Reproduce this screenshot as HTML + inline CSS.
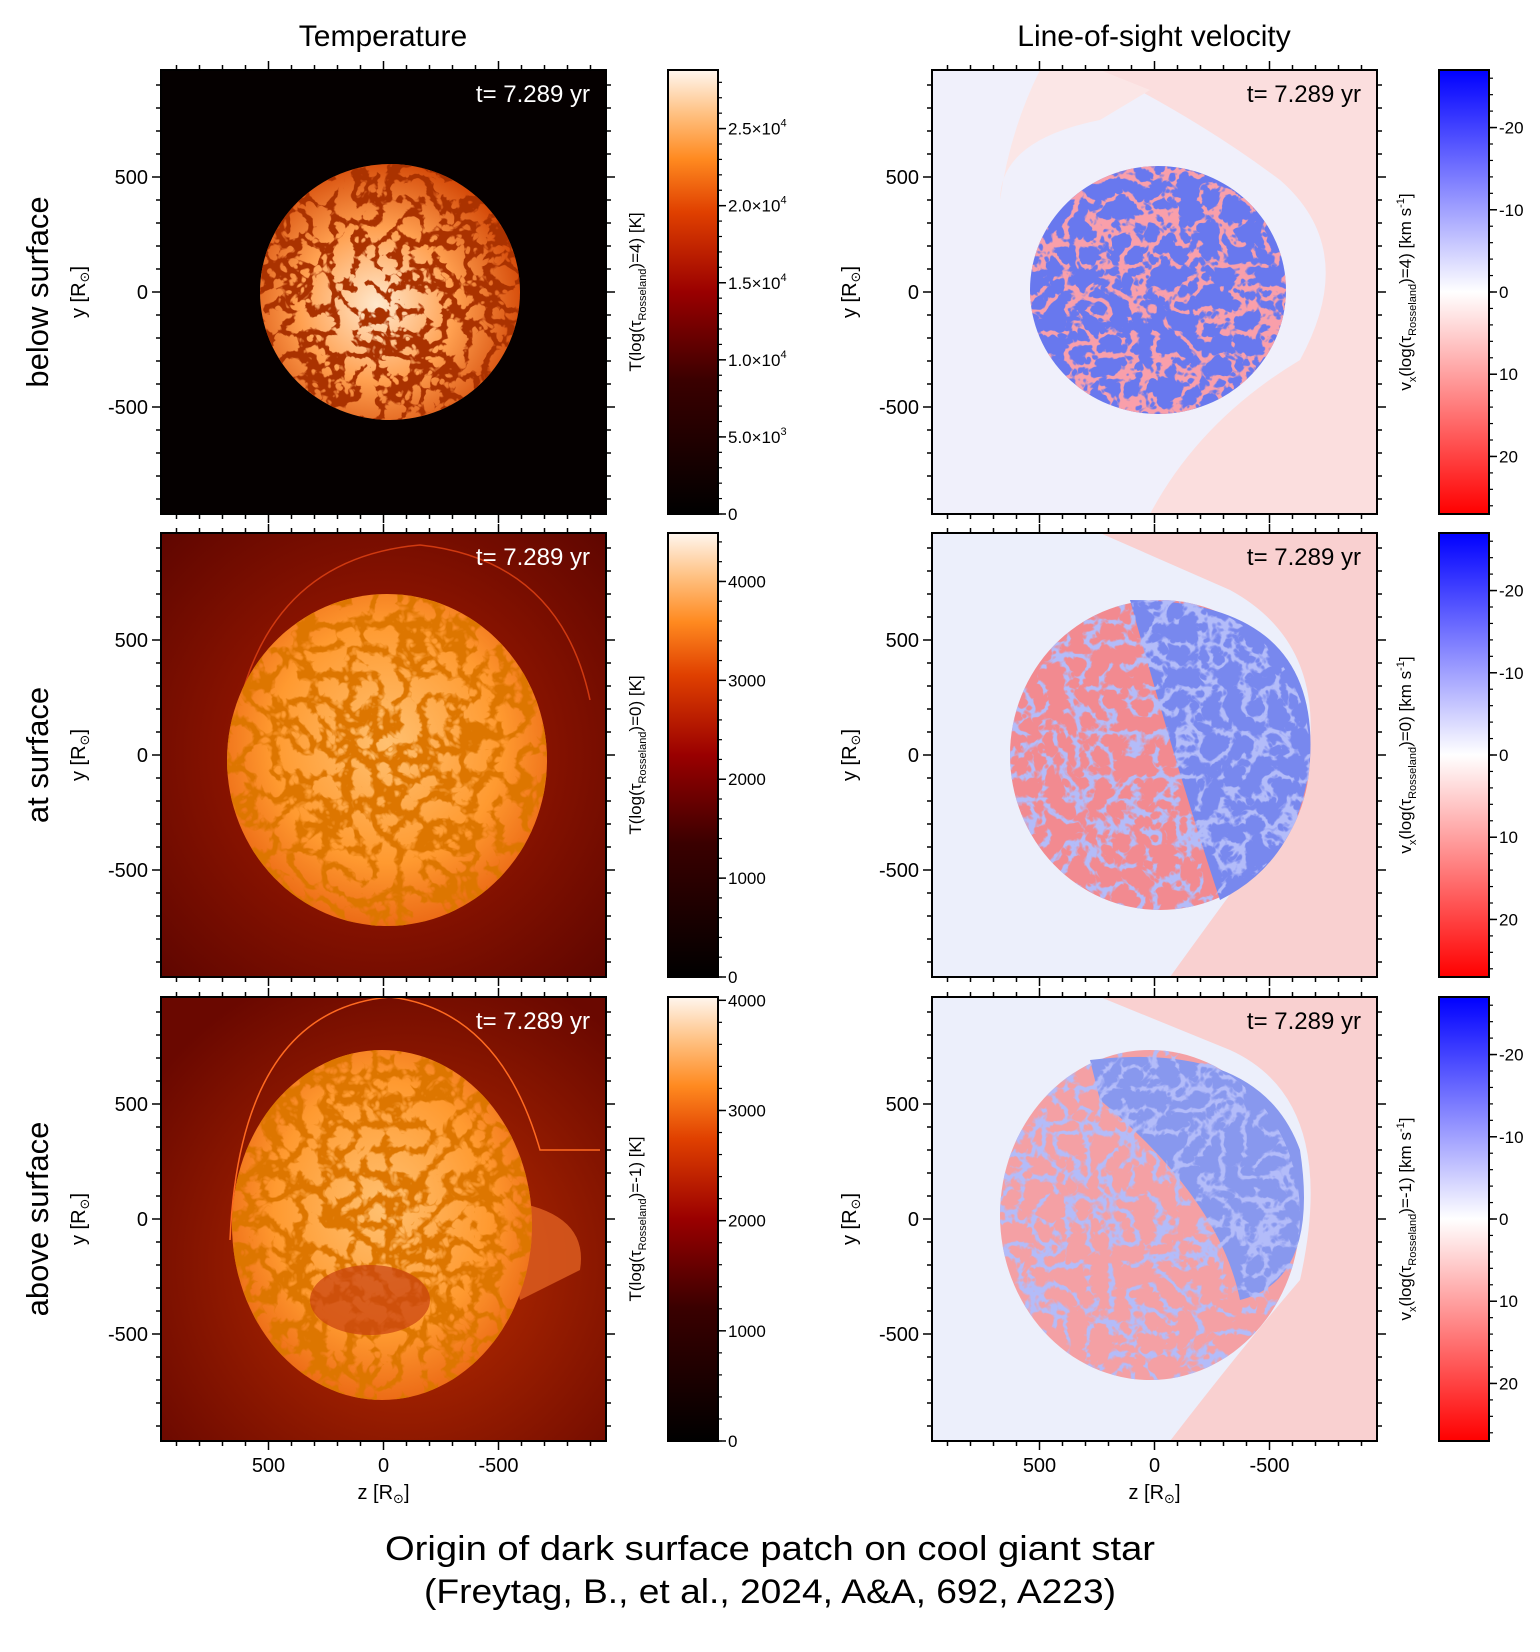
<!DOCTYPE html>
<html><head><meta charset="utf-8">
<style>
html,body{margin:0;padding:0;background:#fff;}
svg{display:block;font-family:"Liberation Sans",sans-serif;}
</style></head>
<body>
<svg id="fig" width="1540" height="1652" viewBox="0 0 1540 1652" xmlns="http://www.w3.org/2000/svg">
<defs>
  <linearGradient id="hotGrad" x1="0" y1="1" x2="0" y2="0">
    <stop offset="0" stop-color="#000"/><stop offset="0.3" stop-color="#3a0000"/>
    <stop offset="0.5" stop-color="#9a0000"/><stop offset="0.68" stop-color="#e04000"/>
    <stop offset="0.8" stop-color="#ff8a20"/><stop offset="0.9" stop-color="#ffc080"/>
    <stop offset="1" stop-color="#fff6ee"/>
  </linearGradient>
  <linearGradient id="bwrGrad" x1="0" y1="1" x2="0" y2="0">
    <stop offset="0" stop-color="#ff0000"/><stop offset="0.5" stop-color="#ffffff"/>
    <stop offset="1" stop-color="#0000ff"/>
  </linearGradient>
  <radialGradient id="star1" cx="0.45" cy="0.55" r="0.6">
    <stop offset="0" stop-color="#ffe8cc"/><stop offset="0.5" stop-color="#ffa050"/><stop offset="1" stop-color="#d04000"/>
  </radialGradient>
  <radialGradient id="star2" cx="0.5" cy="0.45" r="0.6">
    <stop offset="0" stop-color="#ffc070"/><stop offset="0.6" stop-color="#ff9a30"/><stop offset="1" stop-color="#e86010"/>
  </radialGradient>
  <radialGradient id="bg2" cx="0.5" cy="0.5" r="0.7">
    <stop offset="0" stop-color="#b02000"/><stop offset="1" stop-color="#600600"/>
  </radialGradient>
  <radialGradient id="bg3" cx="0.55" cy="0.6" r="0.7">
    <stop offset="0" stop-color="#c03000"/><stop offset="1" stop-color="#6a0800"/>
  </radialGradient>
  <filter id="lanes" x="0" y="0" width="100%" height="100%">
    <feTurbulence type="turbulence" baseFrequency="0.045" numOctaves="3" seed="4"/>
    <feColorMatrix type="matrix" values="0 0 0 0 0.4  0 0 0 0 0.03  0 0 0 0 0  0 0 0 -12 3.4"/>
    <feComposite in2="SourceGraphic" operator="in"/>
  </filter>
  <filter id="lanes2" x="0" y="0" width="100%" height="100%">
    <feTurbulence type="turbulence" baseFrequency="0.04" numOctaves="3" seed="9"/>
    <feColorMatrix type="matrix" values="0 0 0 0 0.72  0 0 0 0 0.18  0 0 0 0 0  0 0 0 -7 2.3"/>
    <feComposite in2="SourceGraphic" operator="in"/>
  </filter>
  <filter id="redp" x="0" y="0" width="100%" height="100%">
    <feTurbulence type="turbulence" baseFrequency="0.045" numOctaves="3" seed="2"/>
    <feColorMatrix type="matrix" values="0 0 0 0 0.95  0 0 0 0 0.35  0 0 0 0 0.4  0 0 0 -12 3.0"/>
    <feComposite in2="SourceGraphic" operator="in"/>
  </filter>
  <filter id="bluep" x="0" y="0" width="100%" height="100%">
    <feTurbulence type="turbulence" baseFrequency="0.045" numOctaves="3" seed="7"/>
    <feColorMatrix type="matrix" values="0 0 0 0 0.45  0 0 0 0 0.5  0 0 0 0 0.95  0 0 0 -8 2.2"/>
    <feComposite in2="SourceGraphic" operator="in"/>
  </filter>
  <clipPath id="cL1"><rect x="161" y="70" width="445" height="444"/></clipPath>
  <clipPath id="cL2"><rect x="161" y="533" width="445" height="444"/></clipPath>
  <clipPath id="cL3"><rect x="161" y="997" width="445" height="444"/></clipPath>
  <clipPath id="cR1"><rect x="932" y="70" width="445" height="444"/></clipPath>
  <clipPath id="cR2"><rect x="932" y="533" width="445" height="444"/></clipPath>
  <clipPath id="cR3"><rect x="932" y="997" width="445" height="444"/></clipPath>
</defs>

<g clip-path="url(#cL1)">
  <rect x="161" y="70" width="445" height="444" fill="#050000"/>
  <ellipse cx="390" cy="292" rx="130" ry="128" fill="url(#star1)"/>
  <ellipse cx="390" cy="292" rx="130" ry="128" fill="#000" filter="url(#lanes)"/>
</g>
<g clip-path="url(#cL2)">
  <rect x="161" y="533" width="445" height="444" fill="url(#bg2)"/>
  <path d="M230 760 Q250 560 420 545 Q560 560 590 700" stroke="#d03a10" stroke-width="1.5" fill="none"/>
  <ellipse cx="387" cy="760" rx="160" ry="166" fill="url(#star2)"/>
  <ellipse cx="387" cy="760" rx="160" ry="166" fill="#000" filter="url(#lanes2)"/>
</g>
<g clip-path="url(#cL3)">
  <rect x="161" y="997" width="445" height="444" fill="url(#bg3)"/>
  <path d="M230 1240 Q240 1010 390 997 M390 997 Q500 1010 540 1150 L600 1150" stroke="#ff6a20" stroke-width="1.5" fill="none"/>
  <path d="M500 1200 Q590 1210 580 1270 L520 1300 Z" fill="#e06020" opacity="0.8"/>
  <ellipse cx="382" cy="1225" rx="150" ry="175" fill="url(#star2)"/>
  <ellipse cx="382" cy="1225" rx="150" ry="175" fill="#000" filter="url(#lanes2)"/>
  <ellipse cx="370" cy="1300" rx="60" ry="35" fill="#c84010" opacity="0.7"/>
</g>

<g clip-path="url(#cR1)">
  <rect x="932" y="70" width="445" height="444" fill="#f0f0fb"/>
  <path d="M1100 70 L1377 70 L1377 514 L1150 514 Q1200 420 1300 360 Q1360 250 1280 180 Q1200 120 1100 70 Z" fill="#fbdede"/>
  <path d="M1000 200 Q1000 140 1100 120 L1150 90 L1100 70 L1040 70 Q1010 130 1000 200 Z" fill="#fbe6e6"/>
  <ellipse cx="1158" cy="290" rx="128" ry="124" fill="#6878ee"/>
  <ellipse cx="1158" cy="290" rx="128" ry="124" fill="#000" filter="url(#redp)"/>
</g>
<g clip-path="url(#cR2)">
  <rect x="932" y="533" width="445" height="444" fill="#eceffb"/>
  <path d="M1100 533 L1377 533 L1377 977 L1170 977 Q1240 880 1300 800 Q1340 650 1230 590 Z" fill="#f9d0d0"/>
  <ellipse cx="1160" cy="755" rx="150" ry="155" fill="#f28a90"/>
  <path d="M1130 600 Q1320 600 1310 760 Q1300 860 1220 900 Q1180 780 1130 600 Z" fill="#7888ee"/>
  <ellipse cx="1160" cy="755" rx="150" ry="155" fill="#000" filter="url(#bluep)"/>
</g>
<g clip-path="url(#cR3)">
  <rect x="932" y="997" width="445" height="444" fill="#eceffb"/>
  <path d="M1100 997 L1377 997 L1377 1441 L1170 1441 Q1240 1350 1300 1280 Q1340 1100 1230 1050 Z" fill="#f9d0d0"/>
  <ellipse cx="1150" cy="1215" rx="150" ry="165" fill="#f4a0a4"/>
  <path d="M1090 1060 Q1260 1040 1300 1150 Q1320 1280 1240 1300 Q1220 1200 1100 1100 Z" fill="#8898ee"/>
  <ellipse cx="1150" cy="1215" rx="150" ry="165" fill="#000" filter="url(#bluep)"/>
</g>

<g id="axes"></g>

<text x="383" y="46" font-size="30" text-anchor="middle">Temperature</text>
<text x="1154" y="46" font-size="30" text-anchor="middle">Line-of-sight velocity</text>

<text transform="translate(48,292) rotate(-90)" font-size="31" text-anchor="middle">below surface</text>
<text transform="translate(48,755) rotate(-90)" font-size="31" text-anchor="middle">at surface</text>
<text transform="translate(48,1219) rotate(-90)" font-size="31" text-anchor="middle">above surface</text>

<text x="770" y="1560" font-size="34" text-anchor="middle" textLength="770" lengthAdjust="spacingAndGlyphs">Origin of dark surface patch on cool giant star</text>
<text x="770" y="1603" font-size="34" text-anchor="middle" textLength="692" lengthAdjust="spacingAndGlyphs">(Freytag, B., et al., 2024, A&amp;A, 692, A223)</text>

<script>
const axisTicks = [500, 0, -500];
const tempTickLabelsRow1 = ["2.5", "2.0", "1.5", "1.0", "5.0"];
const tempTickValuesRow1 = [25000, 20000, 15000, 10000, 5000, 0];
const tempMaxRow1 = 28800;
const tempTickValuesRow2 = [4000, 3000, 2000, 1000, 0];
const tempMaxRow2 = 4490;
const tempTickValuesRow3 = [4000, 3000, 2000, 1000, 0];
const tempMaxRow3 = 4030;
const velTickValues = [-20, -10, 0, 10, 20];
const velMax = 27;
const tauLevels = ["4", "0", "-1"];
const timeLabel = "t= 7.289 yr";

const NS = "http://www.w3.org/2000/svg";
const axes = document.getElementById("axes");
const rowTops = [70, 533, 997];
const colLefts = [161, 932];
const W = 445, H = 444, SCALE = 0.23;
function mk(tag, attrs, parent) {
  const e = document.createElementNS(NS, tag);
  for (const k in attrs) e.setAttribute(k, attrs[k]);
  (parent || axes).appendChild(e);
  return e;
}
function addParts(textEl, parts) {
  parts.forEach(p => {
    const ts = mk("tspan", {}, textEl);
    if (p[1]) ts.setAttribute("dy", p[1]);
    if (p[2]) ts.setAttribute("font-size", p[2]);
    if (p[3]) ts.setAttribute("font-family", p[3]);
    ts.textContent = p[0];
  });
}
function xPix(v, col) { return colLefts[col] + W / 2 - v * SCALE; }
function yPix(v, row) { return rowTops[row] + H / 2 - v * SCALE; }
const SUN = "DejaVu Sans, sans-serif";

for (let c = 0; c < 2; c++) {
  for (let r = 0; r < 3; r++) {
    const L = colLefts[c], T = rowTops[r];
    const g = mk("g", {});
    
    
    mk("rect", {x: L, y: T, width: W, height: H, fill: "none", stroke: "#000", "stroke-width": 2}, g);
    for (let v = -900; v <= 900; v += 100) {
      const major = v % 500 === 0;
      const len = major ? 9 : 5;
      const x = xPix(v, c), y = yPix(v, r);
      mk("line", {x1: x, y1: T, x2: x, y2: T - len, stroke: "#000", "stroke-width": 1.5}, g);
      mk("line", {x1: x, y1: T + H, x2: x, y2: T + H + len, stroke: "#000", "stroke-width": 1.5}, g);
      mk("line", {x1: L, y1: y, x2: L - len, y2: y, stroke: "#000", "stroke-width": 1.5}, g);
      mk("line", {x1: L + W, y1: y, x2: L + W + len, y2: y, stroke: "#000", "stroke-width": 1.5}, g);
    }
    axisTicks.forEach(v => {
      const t = mk("text", {x: L - 13, y: yPix(v, r) + 7, "font-size": 20, "text-anchor": "end"}, g);
      t.textContent = String(v);
      
      
    });
    const yl = mk("text", {transform: `translate(${L - 76},${T + H / 2}) rotate(-90)`, "font-size": 20, "text-anchor": "middle"}, g);
    addParts(yl, [["y [R", 0], ["\u2299", 4, 13, SUN], ["]", -4, 20]]);
    
    
    const tt = mk("text", {x: L + W - 16, y: T + 32, "font-size": 24, "text-anchor": "end", fill: c === 0 ? "#fff" : "#000"}, g);
    tt.textContent = timeLabel;
    
    
    if (r === 2) {
      axisTicks.forEach(v => {
        const t = mk("text", {x: xPix(v, c), y: 1472, "font-size": 20, "text-anchor": "middle"}, g);
        t.textContent = String(v);
        
        
      });
      const xl = mk("text", {x: L + W / 2, y: 1499, "font-size": 20, "text-anchor": "middle"}, g);
      addParts(xl, [["z [R", 0], ["\u2299", 4, 13, SUN], ["]", -4, 20]]);
      
      
    }
  }
}

const tempSets = [[tempTickValuesRow1, tempMaxRow1], [tempTickValuesRow2, tempMaxRow2], [tempTickValuesRow3, tempMaxRow3]];
for (let c = 0; c < 2; c++) {
  for (let r = 0; r < 3; r++) {
    const X = c === 0 ? 668 : 1439, T = rowTops[r], CW = 50;
    const g = mk("g", {});
    
    
    mk("rect", {x: X, y: T, width: CW, height: H, fill: c === 0 ? "url(#hotGrad)" : "url(#bwrGrad)", stroke: "#000", "stroke-width": 2}, g);
    let cbY, ticks, minorStep, lo, hi;
    if (c === 0) {
      const [vals, mx] = tempSets[r];
      cbY = v => T + H - v / mx * H;
      ticks = vals; lo = 0; hi = mx; minorStep = r === 0 ? 1000 : 200;
    } else {
      cbY = v => T + H / 2 + v / velMax * (H / 2);
      ticks = velTickValues; lo = -velMax; hi = velMax; minorStep = 2;
    }
    for (let v = Math.ceil(lo / minorStep) * minorStep; v <= hi; v += minorStep) {
      mk("line", {x1: X + CW, y1: cbY(v), x2: X + CW + 4, y2: cbY(v), stroke: "#000", "stroke-width": 1.2}, g);
    }
    ticks.forEach((v, i) => {
      const y = cbY(v);
      mk("line", {x1: X + CW, y1: y, x2: X + CW + 8, y2: y, stroke: "#000", "stroke-width": 1.5}, g);
      const t = mk("text", {x: X + CW + 10, y: y + 6, "font-size": 17}, g);
      if (c === 0 && r === 0 && v !== 0) {
        const ex = v >= 10000 ? "4" : "3";
        addParts(t, [[tempTickLabelsRow1[i] + "\u00d710", 0], [ex, -8, 11]]);
      } else {
        t.textContent = v < 0 ? "-" + String(-v) : String(v);
      }
      
      
    });
    const lx = c === 0 ? 641 : 1411;
    const lab = mk("text", {transform: `translate(${lx},${T + H / 2}) rotate(-90)`, "font-size": 17, "text-anchor": "middle"}, g);
    const tau = tauLevels[r];
    if (c === 0) {
      addParts(lab, [["T(log(\u03c4", 0], ["Rosseland", 5, 11], [")=" + tau + ") [K]", -5, 17]]);
    } else {
      addParts(lab, [["v", 0], ["x", 5, 11], ["(log(\u03c4", -5, 17], ["Rosseland", 5, 11], [")=" + tau + ") [km s", -5, 17], ["-1", -7, 11], ["]", 7, 17]]);
    }
    
    
  }
}
</script>
</svg>
</body></html>
